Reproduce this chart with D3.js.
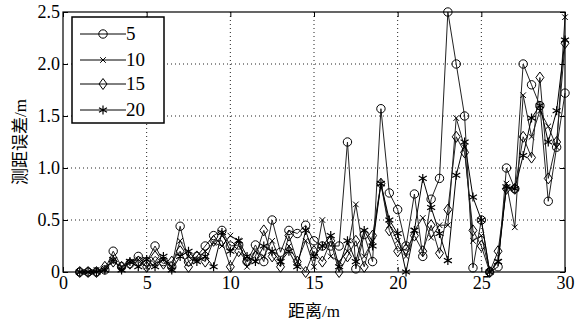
<!DOCTYPE html>
<html>
<head>
<meta charset="utf-8">
<script src="https://cdn.jsdelivr.net/npm/d3@7"></script>
<style>
    body { margin: 0; background: #fff; }
    svg { display: block; }
</style>
</head>
<body>
<div id="plot1"></div>
<script>
// distance in m, 0.5 m steps
const distances = d3.range(1, 30.01, 0.5);

const seriesNames = ['5', '10', '15', '20'];

const err5 = [0, 0, 0, 0.02, 0.2, 0.05, 0.08, 0.15, 0.1, 0.25, 0.1, 0.05, 0.44, 0.1, 0.15,
    0.25, 0.35, 0.4, 0.25, 0.26, 0.1, 0.26, 0.1, 0.5, 0.19, 0.4, 0.37, 0.45, 0.3, 0.25,
    0.25, 0.25, 1.25, 0.03, 0.36, 0.1, 1.57, 0.76, 0.6, 0.25, 0.75, 0.15, 0.7, 0.9, 2.5,
    2.0, 1.5, 0.04, 0.5, 0, 0.05, 1.0, 0.8, 2.0, 1.8, 1.6, 0.68, 1.2, 1.72];

const err10 = [0, 0, 0.02, 0.03, 0.1, 0.05, 0.1, 0.12, 0.05, 0.08, 0.12, 0.05, 0.3, 0.15, 0.12,
    0.2, 0.28, 0.25, 0.35, 0.3, 0.05, 0.2, 0.15, 0.3, 0.1, 0.25, 0.1, 0.3, 0.05, 0.5,
    0.15, 0.1, 0.2, 0.65, 0.15, 0.3, 0.85, 0.45, 0.3, 0.15, 0.4, 0.52, 0.33, 0.45, 0.45,
    1.48, 1.2, 0.3, 0.35, 0, 0.1, 0.85, 0.43, 1.7, 1.3, 1.55, 1.4, 1.2, 2.45];

const err15 = [0, 0, 0, 0.05, 0.1, 0.05, 0.08, 0.1, 0.05, 0.15, 0.08, 0.1, 0.2, 0.05, 0.15,
    0.1, 0.3, 0.3, 0.05, 0.2, 0.1, 0.15, 0.4, 0.15, 0.05, 0.35, 0.1, 0, 0.2, 0.1,
    0.3, 0, 0.15, 0.3, 0.05, 0.35, 0.85, 0.4, 0.2, 0.22, 0.35, 0.2, 0.45, 0.18, 0.6,
    1.3, 1.15, 0.4, 0.25, 0, 0.2, 0.8, 0.8, 1.3, 1.1, 1.87, 0.9, 1.25, 2.2];

const err20 = [0, 0, 0, 0.02, 0.12, 0.02, 0.1, 0.05, 0.12, 0.05, 0.15, 0.02, 0.15, 0.2, 0.1,
    0.15, 0.05, 0.38, 0.2, 0.3, 0.15, 0.1, 0.25, 0.2, 0.1, 0.2, 0.05, 0.4, 0.15, 0.25,
    0.35, 0.05, 0.3, 0.1, 0.4, 0.25, 0.85, 0.5, 0.37, 0, 0.4, 0.9, 0.62, 0.37, 0.11,
    0.93, 1.25, 0.72, 0.5, 0, 0.1, 0.82, 0.8, 1.12, 1.48, 1.6, 1.25, 1.55, 2.23];

const xTicks = [0, 5, 10, 15, 20, 25, 30];
const yTicks = [0, 0.5, 1.0, 1.5, 2.0, 2.5];
const yTickLabels = ['0', '0.5', '1.0', '1.5', '2.0', '2.5'];

const seriesValues = [err5, err10, err15, err20];
const markerTypes = ['circle', 'cross', 'diamond', 'star'];

let svgWidth = 584;
let svgHeight = 323;
let margin = {top: 12, right: 19, bottom: 51, left: 63};
let width = svgWidth - margin.left - margin.right;
let height = svgHeight - margin.top - margin.bottom;

const serif = '"Liberation Serif", "Times New Roman", "Noto Sans CJK SC", serif';

let svg = d3.select('#plot1')
    .append('svg')
    .attr('width', svgWidth)
    .attr('height', svgHeight);

let chart = svg.append('g')
    .attr('transform', 'translate(' + margin.left + ', ' + margin.top + ')');

let xs = d3.scaleLinear().domain([0, 30]).range([0, width]);
let ys = d3.scaleLinear().domain([0, 2.5]).range([height, 0]);

// dotted grid
chart.append('g').selectAll('line')
    .data(xTicks.slice(1, -1))
    .enter().append('line')
    .attr('x1', d => xs(d)).attr('x2', d => xs(d))
    .attr('y1', 0).attr('y2', height)
    .style('stroke', '#222').style('stroke-width', '1px')
    .style('stroke-dasharray', '1,3');
chart.append('g').selectAll('line')
    .data(yTicks.slice(1, -1))
    .enter().append('line')
    .attr('y1', d => ys(d)).attr('y2', d => ys(d))
    .attr('x1', 0).attr('x2', width)
    .style('stroke', '#222').style('stroke-width', '1px')
    .style('stroke-dasharray', '1,3');

// marker drawing
function drawMarker(g, type) {
    if (type === 'circle') {
        g.append('circle').attr('r', 4.2)
            .style('fill', 'none').style('stroke', '#000').style('stroke-width', '1px');
    } else if (type === 'cross') {
        g.append('path').attr('d', 'M-2.8,-2.8L2.8,2.8M-2.8,2.8L2.8,-2.8')
            .style('stroke', '#000').style('stroke-width', '1px');
    } else if (type === 'diamond') {
        g.append('path').attr('d', 'M0,-5.5L4,0L0,5.5L-4,0Z')
            .style('fill', 'none').style('stroke', '#000').style('stroke-width', '1px');
    } else {
        g.append('path').attr('d', 'M0,-4.5V4.5M-4,-2.3L4,2.3M-4,2.3L4,-2.3')
            .style('stroke', '#000').style('stroke-width', '1.2px');
    }
}

const lineGenerator = d3.line()
    .x((d, i) => xs(distances[i]))
    .y(d => ys(d));

let plotArea = chart.append('g');

seriesValues.forEach((vals, k) => {
    plotArea.append('path')
        .datum(vals)
        .attr('d', lineGenerator)
        .style('fill', 'none')
        .style('stroke', k === 3 ? '#000' : '#222')
        .style('stroke-width', '1px');

    plotArea.selectAll('.pt' + k)
        .data(vals)
        .enter().append('g')
        .attr('class', 'pt' + k)
        .attr('transform', (d, i) => 'translate(' + xs(distances[i]) + ',' + ys(d) + ')')
        .each(function() { drawMarker(d3.select(this), markerTypes[k]); });
});

// frame
chart.append('rect')
    .attr('width', width).attr('height', height)
    .style('fill', 'none').style('stroke', '#000').style('stroke-width', '1.2px');

// inward ticks
let xAxis = d3.axisBottom(xs).tickValues(xTicks).tickSize(-5).tickFormat(d => d);
let yAxis = d3.axisLeft(ys).tickValues(yTicks).tickSize(-5).tickFormat((d, i) => yTickLabels[i]);

let gx = chart.append('g')
    .attr('transform', 'translate(0, ' + height + ')')
    .call(xAxis);
let gy = chart.append('g').call(yAxis);

let gxTop = chart.append('g').call(d3.axisTop(xs).tickValues(xTicks).tickSize(-5).tickFormat(''));
let gyRight = chart.append('g').attr('transform', 'translate(' + width + ',0)')
    .call(d3.axisRight(ys).tickValues(yTicks).tickSize(-5).tickFormat(''));

[gx, gy, gxTop, gyRight].forEach(g => {
    g.select('.domain').remove();
    g.selectAll('.tick line').style('stroke', '#000');
    g.selectAll('.tick text')
        .style('font-family', serif)
        .style('font-size', '18px')
        .style('fill', '#000');
});
gx.selectAll('.tick text').attr('dy', '0.9em').attr('y', 1);
gy.selectAll('.tick text').attr('x', -3);

// axis titles
svg.append('text')
    .attr('x', margin.left + width / 2)
    .attr('y', 317)
    .style('text-anchor', 'middle')
    .style('font-family', serif)
    .style('font-size', '17px')
    .text('距离/m');

svg.append('text')
    .attr('transform', 'rotate(-90)')
    .attr('x', -(margin.top + height / 2))
    .attr('y', 26)
    .style('text-anchor', 'middle')
    .style('font-family', serif)
    .style('font-size', '17px')
    .text('测距误差/m');

// legend
let legend = svg.append('g').attr('transform', 'translate(72, 17)');
legend.append('rect')
    .attr('width', 92).attr('height', 106)
    .style('fill', '#fff').style('stroke', '#000').style('stroke-width', '1.5px');

let legendRows = [17, 43, 67, 93];
seriesNames.forEach((name, k) => {
    let row = legend.append('g').attr('transform', 'translate(0, ' + legendRows[k] + ')');
    row.append('line').attr('x1', 8).attr('x2', 54)
        .style('stroke', '#000').style('stroke-width', '1px');
    drawMarker(row.append('g').attr('transform', 'translate(31, 0)'), markerTypes[k]);
    row.append('text')
        .attr('x', 54).attr('y', 6)
        .style('font-family', serif)
        .style('font-size', '19px')
        .text(name);
});
</script>
</body>
</html>
